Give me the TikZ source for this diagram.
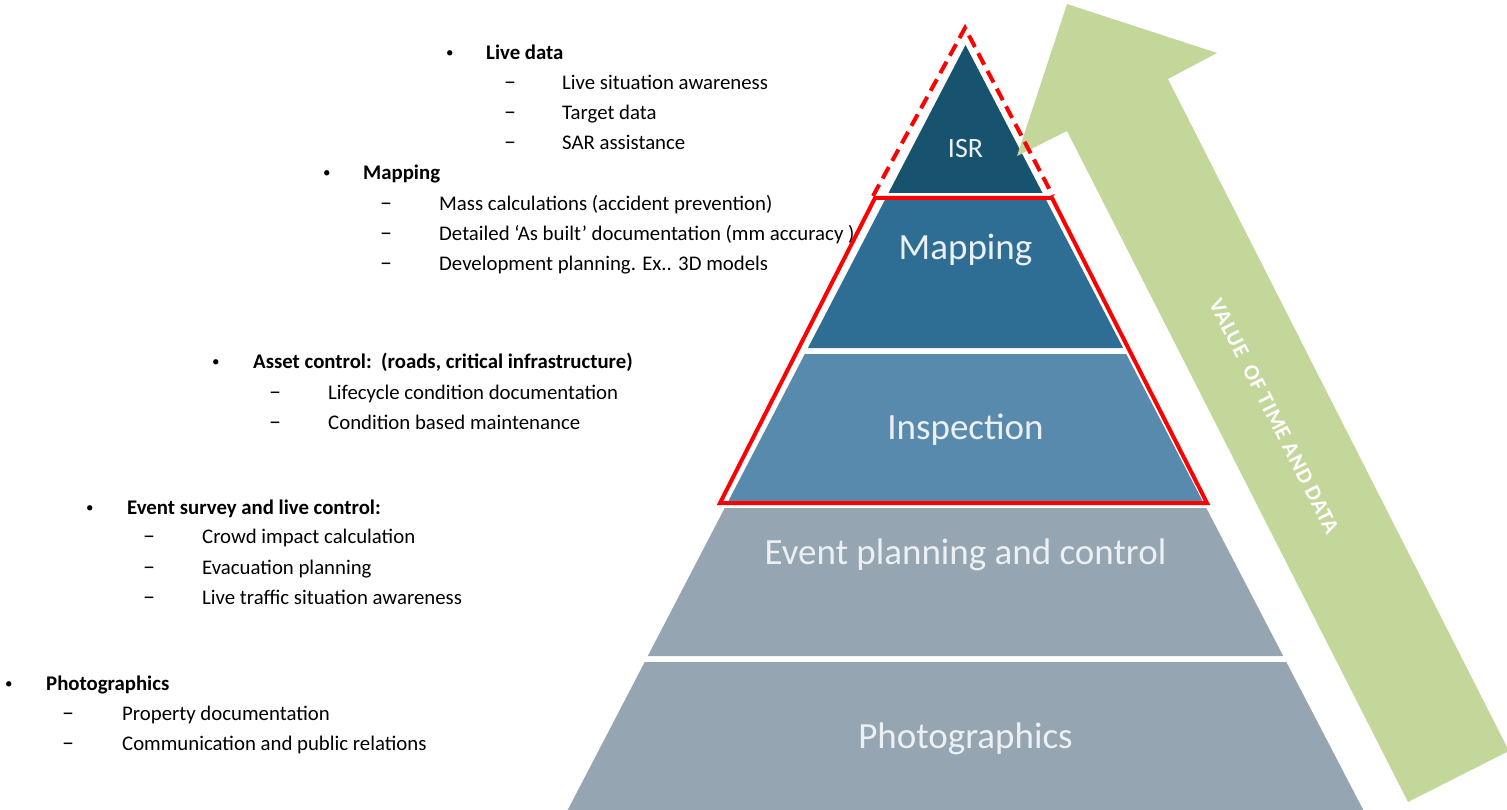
\documentclass[tikz,border=0pt]{standalone}
\usepackage{fontspec}
\setmainfont{Carlito}
\definecolor{isrcol}{RGB}{23,83,111}
\definecolor{mapcol}{RGB}{46,110,148}
\definecolor{inscol}{RGB}{88,138,174}
\definecolor{graycol}{RGB}{149,165,178}
\definecolor{lblcol}{RGB}{236,240,243}
\definecolor{greencol}{RGB}{196,215,155}
\definecolor{redcol}{RGB}{255,0,0}
\begin{document}
\begin{tikzpicture}[x=1pt,y=-1pt,
  isrc/.style={fill=isrcol},
  mapc/.style={fill=mapcol},
  insc/.style={fill=inscol},
  grayc/.style={fill=graycol},
  lbl/.style={text=lblcol,font=\fontsize{37}{40}\selectfont,inner sep=0},
  item/.style={anchor=base west,inner sep=0,font=\fontsize{20.8}{24}\selectfont},
  bul/.style={anchor=base west,inner sep=0,font=\fontsize{15}{18}\selectfont},
  dsh/.style={anchor=base west,inner sep=0,font=\fontsize{24}{26}\selectfont},
  head/.style={item,font=\fontsize{20.8}{24}\selectfont\bfseries},
  redline/.style={draw=redcol,line width=4pt}]
\useasboundingbox (0,0) rectangle (1507,810);
\clip (0,0) rectangle (1507,810);

% left texts
\node[bul] (b1) at (446,58) {•};
\node[head] (h1) at (486,60) {Live data};
\node[dsh] (d11) at (504,90) {–};
\node[item] (t11) at (562,90) {Live situation awareness};
\node[dsh] (d12) at (504,120) {–};
\node[item] (t12) at (562,120) {Target data};
\node[dsh] (d13) at (504,150) {–};
\node[item] (t13) at (562,150) {SAR assistance};

\node[bul] (b2) at (323,178) {•};
\node[head] (h2) at (363,180) {Mapping};
\node[dsh] (d21) at (380,211) {–};
\node[item] (t21) at (439,211) {Mass calculations (accident prevention)};
\node[dsh] (d22) at (380,241) {–};
\node[item] (t22) at (439,241) {Detailed ‘As built’ documentation (mm accuracy )};
\node[dsh] (d23) at (380,271) {–};
\node[item] (t23) at (439,271) {Development planning. Ex.. 3D models};

\node[bul] (b3) at (212,366) {•};
\node[head] (h3) at (253,368) {Asset control:\ \ (roads, critical infrastructure)};
\node[dsh] (d31) at (269,399) {–};
\node[item] (t31) at (328,399) {Lifecycle condition documentation};
\node[dsh] (d32) at (269,429) {–};
\node[item] (t32) at (328,429) {Condition based maintenance};

\node[bul] (b4) at (86,512) {•};
\node[head] (h4) at (127,514) {Event survey and live control:};
\node[dsh] (d41) at (143,543) {–};
\node[item] (t41) at (202,543) {Crowd impact calculation};
\node[dsh] (d42) at (143,574) {–};
\node[item] (t42) at (202,574) {Evacuation planning};
\node[dsh] (d43) at (143,604) {–};
\node[item] (t43) at (202,604) {Live traffic situation awareness};

\node[bul] (b5) at (5,688) {•};
\node[head] (h5) at (46,690) {Photographics};
\node[dsh] (d51) at (62,720) {–};
\node[item] (t51) at (122,720) {Property documentation};
\node[dsh] (d52) at (62,750) {–};
\node[item] (t52) at (122,750) {Communication and public relations};

% pyramid
\fill[isrc] (965.5,45) -- (1042.5,193) -- (888.5,193) -- cycle;
\fill[mapc] (885.4,199) -- (1045.6,199) -- (1123.1,348) -- (807.9,348) -- cycle;
\fill[insc] (804.8,354) -- (1126.2,354) -- (1203.1,502) -- (727.9,502) -- cycle;
\fill[grayc] (724.7,508) -- (1206.3,508) -- (1283.2,656) -- (647.8,656) -- cycle;
\fill[grayc] (644.7,662) -- (1286.3,662) -- (1365.9,815) -- (565.1,815) -- cycle;

\node[lbl,font=\fontsize{28}{30}\selectfont] (isr) at (965.5,149) {ISR};
\node[lbl] (map) at (965.5,250) {Mapping};
\node[lbl] (ins) at (965.5,430) {Inspection};
\node[lbl] (evt) at (965.5,555) {Event planning and control};
\node[lbl] (pho) at (965.5,739) {Photographics};

% green arrow
\fill[greencol] (1067,4) -- (1217,53) -- (1168,79) -- (1509,751) -- (1408,802) -- (1067,131) -- (1017,156) -- cycle;
\node[rotate=-63,text=white,inner sep=0,font=\fontsize{22}{24}\selectfont\bfseries\addfontfeature{LetterSpace=4}] (val) at (1274,416) {VALUE\ \ OF TIME AND DATA};

% red outlines
\draw[redline,line join=miter] (875,198) -- (1052,198) -- (1207,503) -- (720,503) -- cycle;
\draw[redline,dash pattern=on 13pt off 7pt] (873,196) -- (965,28) -- (1053,196);
\end{tikzpicture}
\end{document}
